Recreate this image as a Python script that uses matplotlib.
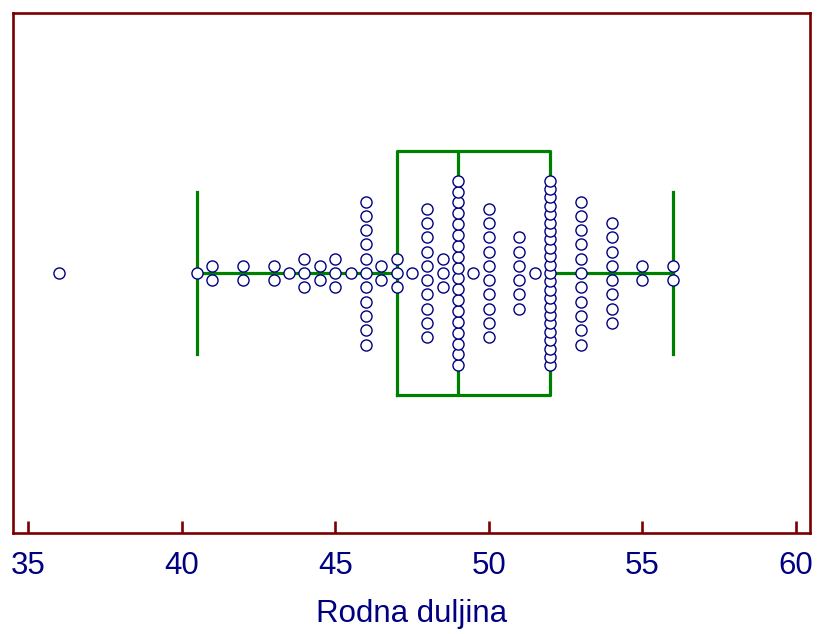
import numpy as np
import matplotlib
matplotlib.use("Agg")
import matplotlib.pyplot as plt

# Rodna duljina - vrijednosti i koliko se puta pojavljuju
values = [36, 40.5, 41, 42, 43, 43.5, 44, 44.5, 45, 45.5, 46, 46.5, 47, 47.5,
          48, 48.5, 49, 49.5, 50, 51, 51.5, 52, 53, 54, 55, 56]
counts = [1, 1, 2, 2, 2, 1, 3, 2, 3, 1, 11, 2, 3, 1,
          10, 3, 18, 1, 10, 6, 1, 23, 11, 8, 2, 2]
xticks = [35, 40, 45, 50, 55, 60]
xlabel = "Rodna duljina"

maroon = "#7a0000"
navy = "#000080"
green = "#008000"

plt.rcParams["font.family"] = ["Liberation Sans", "DejaVu Sans"]

data = np.repeat(values, counts)

fig = plt.figure(figsize=(8.18, 6.34), dpi=100)
ax = fig.add_axes([13 / 818, 101 / 634, 797 / 818, 520 / 634])

# box plot (bez outliera, oni su vec tocke)
ax.boxplot(data, vert=False, positions=[0], widths=0.94, capwidths=0.62,
           showfliers=False, whis=1.5,
           boxprops=dict(color=green, linewidth=2.3),
           medianprops=dict(color=green, linewidth=2.3),
           whiskerprops=dict(color=green, linewidth=2.3),
           capprops=dict(color=green, linewidth=2.3))

# tocke slozene okomito oko sredine
step = 0.055
max_span = 0.71
for v, n in zip(values, counts):
    s = step
    if n > 1:
        s = min(step, max_span / (n - 1))
    ys = (np.arange(n) - (n - 1) / 2) * s
    ax.plot(np.full(n, v), ys, "o", ms=8.0, mfc="white", mec=navy,
            mew=1.0, zorder=5)

ax.set_xlim(34.51, 60.46)
ax.set_ylim(-1, 1)
ax.set_yticks([])
ax.set_xticks(xticks)
ax.set_xticklabels([str(t) for t in xticks])

for side in ["left", "right", "top", "bottom"]:
    ax.spines[side].set_color(maroon)
    ax.spines[side].set_linewidth(1.9)

ax.tick_params(axis="x", direction="in", length=8.6, width=1.9, color=maroon,
               labelcolor=navy, labelsize=22.5, pad=13)
ax.set_xlabel(xlabel, fontsize=22.5, color=navy, labelpad=13)

fig.savefig("out.png", dpi=100)
